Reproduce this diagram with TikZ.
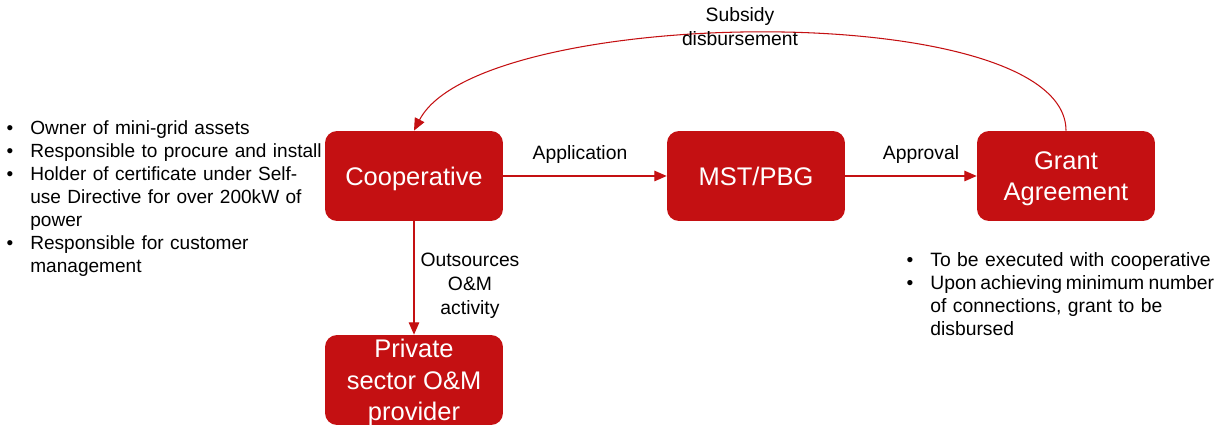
\documentclass[tikz,border=0pt]{standalone}
\usepackage{fontspec}
\setmainfont{Liberation Sans}
\usepackage{enumitem}
\usetikzlibrary{arrows.meta}
\definecolor{boxred}{RGB}{196,16,18}

\begin{document}
\begin{tikzpicture}[x=0.02cm, y=-0.02cm,
    actor/.style={rectangle, rounded corners=0.24cm, fill=boxred,
      text=white, minimum width=3.56cm, minimum height=1.8cm,
      inner sep=0pt, text depth=0pt, align=center,
      font=\fontsize{14.5}{18}\selectfont},
    flow/.style={draw=boxred, line width=0.6pt,
      -{Triangle[length=7pt,width=6pt]}},
    tag/.style={align=center, font=\fontsize{11}{13.6}\selectfont},
    notes/.style={anchor=north west, inner sep=0pt, text width=6.6cm,
      font=\fontsize{11}{13.1}\selectfont}
  ]
  \useasboundingbox (0,0) rectangle (1217,428);

  \node[actor] (coop) at (414,176) {Cooperative};
  \node[actor] (mst) at (756,176) {MST/PBG};
  \node[actor] (grant) at (1066,176) {Grant\\Agreement};
  \node[actor] (private) at (414,380) {Private\\sector O\&M\\provider};

  \draw[flow] (coop) -- (mst);
  \draw[flow] (mst) -- (grant);
  \draw[flow] (coop) -- (private);
  \draw[flow] (grant.north) .. controls +(0,-134) and +(65,-126) .. (coop.north);

  \node[tag] (applabel) at (580,155) {Application};
  \node[tag] (apprlabel) at (921,155) {Approval};
  \node[tag] (outlabel) at (470,286) {Outsources\\O\&M\\activity};
  \node[tag] (sublabel) at (740,27) {Subsidy\\disbursement};

  \node[notes, font=\fontsize{10.85}{13.1}\selectfont] (coopnotes) at (8,111) {%
    \begin{itemize}[nosep, leftmargin=0.44cm, labelsep=0.34cm]
      \item Owner of mini-grid assets
      \item Responsible to procure and install
      \item Holder of certificate under Self-\\use Directive for over 200kW of\\power
      \item Responsible for customer\\management
    \end{itemize}};
  \node[notes] (grantnotes) at (908,243) {%
    \begin{itemize}[nosep, leftmargin=0.44cm, labelsep=0.34cm]
      \item To be executed with cooperative
      \item Upon\hspace{0.2em}achieving\hspace{0.2em}minimum\hspace{0.22em}number\\of connections, grant to be\\disbursed
    \end{itemize}};
\end{tikzpicture}
\end{document}
